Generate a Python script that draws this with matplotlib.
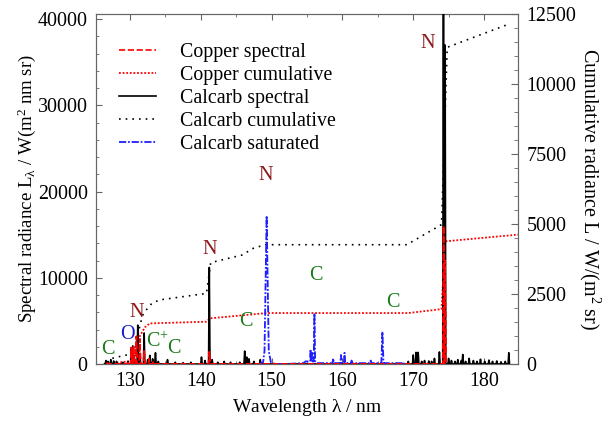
import matplotlib
matplotlib.use('Agg')
import matplotlib.pyplot as plt
import numpy as np

plt.rcParams['font.family'] = 'Liberation Serif'
plt.rcParams['mathtext.fontset'] = 'custom'
plt.rcParams['mathtext.rm'] = 'Liberation Serif'
plt.rcParams['mathtext.it'] = 'Liberation Serif:italic'
plt.rcParams['font.size'] = 14

# --- data ---
# Calcarb spectral lines (wavelength nm, radiance W/(m2 nm sr))
calcarb_wl = [126.6, 126.9, 127.3, 127.7, 128.1, 129.0, 129.7, 130.2, 130.4, 130.6,
              131.1, 131.4, 132.0, 132.5, 132.8, 133.2, 133.6, 134.0, 135.3, 136.4,
              137.5, 138.6, 140.1, 140.6, 141.2, 141.6, 142.4, 143.3, 144.2, 145.5,
              146.2, 146.5, 146.8, 147.5, 148.4, 169.3, 170.0, 170.4, 170.7, 171.2,
              171.6, 172.2, 172.6, 173.0, 173.7, 174.27, 174.5, 175.0, 175.4, 175.9,
              176.3, 176.8, 177.0, 177.4, 177.9, 178.5, 179.0, 179.5, 180.1, 180.7,
              181.2, 181.8, 182.4, 183.0, 183.5]
calcarb_val = [400, 300, 500, 350, 300, 200, 300, 1900, 2100, 1000,
               4500, 1200, 3600, 500, 1000, 600, 1300, 300, 500, 200,
               150, 200, 800, 400, 11200, 500, 200, 300, 200, 200,
               1500, 800, 600, 300, 500, 300, 1050, 1350, 1350, 300,
               400, 350, 300, 650, 1400, 45000, 37000, 650, 400, 300,
               500, 400, 1100, 300, 650, 400, 300, 550, 300, 450,
               300, 350, 250, 300, 1300]

# Copper spectral lines
copper_wl = [126.8, 129.8, 130.2, 130.5, 130.9, 131.4, 132.0, 132.7, 133.3, 141.2, 174.3, 174.5]
copper_val = [100, 300, 1900, 2000, 3200, 2900, 1500, 600, 300, 1400, 16000, 12000]

# Calcarb saturated region (explicit trace)
sat_wl = [148.3, 148.8, 149.0, 149.2, 149.3, 149.4, 149.6, 149.9, 150.5, 152.0,
          154.5, 154.8, 155.3, 155.45, 155.5, 155.55, 155.65, 155.7, 155.75, 155.95,
          156.05, 156.15, 156.4, 157.5, 158.6, 158.7, 158.8, 159.7, 159.8, 159.9,
          160.2, 160.3, 160.4, 161.2, 161.3, 161.4, 163.9, 164.0, 164.1, 165.5,
          165.65, 165.8, 166.0, 168.5, 168.6, 168.7, 169.0]
sat_val = [0, 200, 1500, 12000, 17200, 12000, 1500, 200, 0, 0,
           100, 300, 300, 300, 1700, 300, 300, 1300, 300, 300,
           5900, 300, 100, 100, 100, 660, 100, 100, 1050, 100,
           100, 1300, 100, 100, 400, 100, 100, 400, 100, 100,
           3750, 100, 100, 100, 200, 0, 0]

# Cumulative radiance W/(m2 sr)
calcarb_cum_wl = [127.5, 128.1, 130.2, 130.9, 131.4, 131.9, 133.1, 134.2, 140.8, 141.4,
                  145.8, 147.4, 149.1, 169.1, 174.0, 174.8, 183.4]
calcarb_cum_val = [200, 240, 360, 680, 1390, 1810, 2170, 2290, 2520, 3620,
                   3890, 4130, 4260, 4260, 4980, 11310, 12130]
copper_cum_wl = [126.6, 130.0, 130.6, 131.0, 131.4, 132.1, 132.8, 140.8, 141.3, 149.3,
                 169.3, 174.0, 174.5, 184.8]
copper_cum_val = [0, 100, 350, 700, 1000, 1310, 1450, 1510, 1630, 1820,
                  1820, 1960, 4380, 4620]

# Species labels (text, wavelength, left-axis value, colour)
label_txt = ['C', 'O', 'N', 'C$^{+}$', 'C', 'N', 'C', 'N', 'C', 'C', 'N']
label_wl = [126.9, 129.6, 131.0, 133.9, 136.2, 141.3, 146.4, 149.2, 156.3, 167.1, 172.1]
label_y = [1630, 3370, 5930, 2560, 1740, 13250, 4880, 21860, 10230, 7090, 37200]
label_col = ['#1a7a1a', '#1a1acc', '#8b1a1a', '#1a7a1a', '#1a7a1a', '#8b1a1a',
             '#1a7a1a', '#8b1a1a', '#1a7a1a', '#1a7a1a', '#8b1a1a']


def spike_trace(wl, val, hw=0.1):
    # turn a list of line centres into a spiky trace on a zero baseline
    xs, ys = [], []
    for w, v in zip(wl, val):
        xs += [w - hw, w, w + hw]
        ys += [0, v, 0]
    return np.array(xs), np.array(ys)


fig = plt.figure(figsize=(6.06, 4.23), dpi=100)
ax = fig.add_axes([0.1584, 0.1395, 0.6964, 0.8274])
ax2 = ax.twinx()

cx, cy = spike_trace([126.5] + calcarb_wl, [0] + calcarb_val)
kx, ky = spike_trace(copper_wl, copper_val)

l1, = ax.plot(kx, ky, color='red', ls='--', lw=1.2, label='Copper spectral', zorder=4)
l3, = ax.plot(cx, cy, color='black', ls='-', lw=1.2, label='Calcarb spectral', zorder=3)
l5, = ax.plot(sat_wl, sat_val, color='#2020ff', ls=(0, (4, 1, 1, 1)), lw=1.3,
              label='Calcarb saturated', zorder=3)
ax.plot(kx, ky, color='red', ls='--', lw=1.2, zorder=5)

l2, = ax2.plot(copper_cum_wl, copper_cum_val, color='red', ls=(0, (1, 1)), lw=1.3,
               label='Copper cumulative')
l4, = ax2.plot(calcarb_cum_wl, calcarb_cum_val, color='black', ls=(0, (1, 3)), lw=1.2,
               label='Calcarb cumulative')

for t, w, y, c in zip(label_txt, label_wl, label_y, label_col):
    ax.text(w, y, t, color=c, ha='center', va='center', fontsize=14.5)

ax.set_xlim(125.2, 184.8)
ax.set_ylim(0, 40600)
ax2.set_ylim(0, 12500)

ax.set_xticks([130, 140, 150, 160, 170, 180])
ax.set_xticks(np.arange(130, 185, 5), minor=True)
ax.set_yticks([0, 10000, 20000, 30000, 40000])
ax.set_yticks(np.arange(0, 40001, 2000), minor=True)
ax2.set_yticks([0, 2500, 5000, 7500, 10000, 12500])
ax2.set_yticks(np.arange(0, 12501, 500), minor=True)

frame = '#666666'
for a in (ax, ax2):
    for s in a.spines.values():
        s.set_color(frame)
ax.tick_params(which='both', direction='in', top=True, right=False, color=frame, pad=6,
               labelsize=14.4)
ax.tick_params(which='major', length=4.5)
ax.tick_params(which='minor', length=2.5)
ax2.tick_params(which='both', direction='in', color=frame, pad=6, labelsize=14.4)
ax2.tick_params(which='major', length=5)
ax2.tick_params(which='minor', length=3)

ax.set_xlabel(r'Wavelength $\mathrm{\lambda}$ / nm', labelpad=4)
ax.set_ylabel(r'Spectral radiance L$_{\mathrm{\lambda}}$ / W(m$^2$ nm sr)', labelpad=0,
              fontsize=13.6)
ax2.set_ylabel(r'Cumulative radiance L / W/(m$^2$ sr)', rotation=270, labelpad=19,
               fontsize=14.5)

ax.set_zorder(ax2.get_zorder() + 1)
ax.patch.set_visible(False)

ax.legend(handles=[l1, l2, l3, l4, l5], loc='upper left', bbox_to_anchor=(0.03, 0.945),
          frameon=False, handlelength=1.9, handletextpad=1.2, labelspacing=0.2,
          borderpad=0, fontsize=14.3)

fig.savefig('out.png', dpi=100)
